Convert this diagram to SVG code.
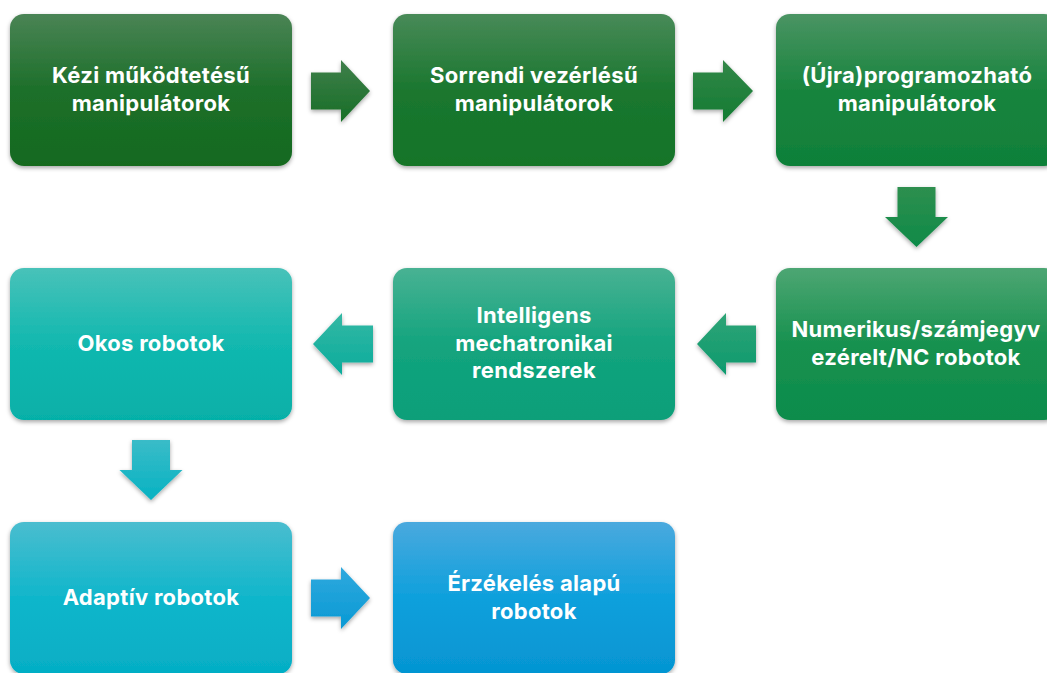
<svg xmlns="http://www.w3.org/2000/svg" width="1047" height="673" viewBox="0 0 1047 673">
<style>
.lbl{font-family:Inter,"Open Sans","Liberation Sans",sans-serif;font-weight:700;font-size:22px;letter-spacing:0.3px;fill:#ffffff;text-anchor:middle}
.box{filter:url(#sh)}
.arr{filter:url(#sh)}
</style>
<defs>
<filter id="sh" x="-10%" y="-10%" width="120%" height="130%">
<feDropShadow dx="0" dy="2" stdDeviation="2" flood-color="#000" flood-opacity="0.35"/>
</filter>
<linearGradient id="g1" x1="0" y1="0" x2="0" y2="1"><stop offset="0" stop-color="#4a8455"/><stop offset="0.5" stop-color="#1d6f2a"/><stop offset="1" stop-color="#146a1f"/></linearGradient>
<linearGradient id="g2" x1="0" y1="0" x2="0" y2="1"><stop offset="0" stop-color="#488a58"/><stop offset="0.5" stop-color="#1b772f"/><stop offset="1" stop-color="#137428"/></linearGradient>
<linearGradient id="g3" x1="0" y1="0" x2="0" y2="1"><stop offset="0" stop-color="#4a9463"/><stop offset="0.5" stop-color="#19843e"/><stop offset="1" stop-color="#0f8039"/></linearGradient>
<linearGradient id="g4" x1="0" y1="0" x2="0" y2="1"><stop offset="0" stop-color="#4da673"/><stop offset="0.5" stop-color="#17914f"/><stop offset="1" stop-color="#0c8c4c"/></linearGradient>
<linearGradient id="g5" x1="0" y1="0" x2="0" y2="1"><stop offset="0" stop-color="#48b293"/><stop offset="0.5" stop-color="#14a47e"/><stop offset="1" stop-color="#089f79"/></linearGradient>
<linearGradient id="g6" x1="0" y1="0" x2="0" y2="1"><stop offset="0" stop-color="#48c2b9"/><stop offset="0.5" stop-color="#12b8af"/><stop offset="1" stop-color="#06b0a8"/></linearGradient>
<linearGradient id="g7" x1="0" y1="0" x2="0" y2="1"><stop offset="0" stop-color="#4abdcf"/><stop offset="0.5" stop-color="#10b6cb"/><stop offset="1" stop-color="#05aec5"/></linearGradient>
<linearGradient id="g8" x1="0" y1="0" x2="0" y2="1"><stop offset="0" stop-color="#4aa9de"/><stop offset="0.5" stop-color="#0ea0dc"/><stop offset="1" stop-color="#0595d2"/></linearGradient>
<linearGradient id="a1" x1="0" y1="0" x2="0" y2="1"><stop offset="0" stop-color="#3f7f4b"/><stop offset="1" stop-color="#176e26"/></linearGradient>
<linearGradient id="a2" x1="0" y1="0" x2="0" y2="1"><stop offset="0" stop-color="#338748"/><stop offset="1" stop-color="#137b32"/></linearGradient>
<linearGradient id="a3" x1="0" y1="0" x2="0" y2="1"><stop offset="0" stop-color="#2e8f4f"/><stop offset="1" stop-color="#0e8a48"/></linearGradient>
<linearGradient id="a4" x1="0" y1="0" x2="0" y2="1"><stop offset="0" stop-color="#2fa476"/><stop offset="1" stop-color="#0d9a6e"/></linearGradient>
<linearGradient id="a5" x1="0" y1="0" x2="0" y2="1"><stop offset="0" stop-color="#35b8a4"/><stop offset="1" stop-color="#0aac9c"/></linearGradient>
<linearGradient id="a6" x1="0" y1="0" x2="0" y2="1"><stop offset="0" stop-color="#3abcc8"/><stop offset="1" stop-color="#07b2c2"/></linearGradient>
<linearGradient id="a7" x1="0" y1="0" x2="0" y2="1"><stop offset="0" stop-color="#30a9de"/><stop offset="1" stop-color="#0899d4"/></linearGradient>
</defs>
<rect x="0" y="0" width="1047" height="673" fill="#ffffff"/>
<g id="connectors">
<path class="arr" fill="url(#a1)" d="M311,72.5 H341 V60 L370,91 L341,122 V109.5 H311 Z"/>
<path class="arr" fill="url(#a2)" d="M693,72.5 H723 V60 L753,91 L723,122 V109.5 H693 Z"/>
<path class="arr" fill="url(#a3)" d="M897.5,187 H935.5 V217 H948 L916.5,247 L885,217 H897.5 Z"/>
<path class="arr" fill="url(#a4)" d="M697,344 L726,313 V325.5 H756 V362.5 H726 V375 Z"/>
<path class="arr" fill="url(#a5)" d="M313,344 L342,313 V325.5 H373 V362.5 H342 V375 Z"/>
<path class="arr" fill="url(#a6)" d="M132,440 H170 V470 H182.5 L151,500 L119.5,470 H132 Z"/>
<path class="arr" fill="url(#a7)" d="M311,579.5 H341 V567 L370,598 L341,629 V616.5 H311 Z"/>
</g>
<g id="n1"><rect class="box" x="10" y="14" width="282" height="152" rx="14" fill="url(#g1)"/>
<text class="lbl" x="151" y="83">Kézi működtetésű</text><text class="lbl" x="151" y="111">manipulátorok</text></g>
<g id="n2"><rect class="box" x="393" y="14" width="282" height="152" rx="14" fill="url(#g2)"/>
<text class="lbl" x="534" y="83">Sorrendi vezérlésű</text><text class="lbl" x="534" y="111">manipulátorok</text></g>
<g id="n3"><rect class="box" x="776" y="14" width="282" height="152" rx="14" fill="url(#g3)"/>
<text class="lbl" x="917" y="83">(Újra)programozható</text><text class="lbl" x="917" y="111">manipulátorok</text></g>
<g id="n4"><rect class="box" x="776" y="268" width="282" height="152" rx="14" fill="url(#g4)"/>
<text class="lbl" x="916" y="337">Numerikus/számjegyv</text><text class="lbl" x="916" y="365">ezérelt/NC robotok</text></g>
<g id="n5"><rect class="box" x="393" y="268" width="282" height="152" rx="14" fill="url(#g5)"/>
<text class="lbl" x="534" y="323">Intelligens</text><text class="lbl" x="534" y="350.5">mechatronikai</text><text class="lbl" x="534" y="378">rendszerek</text></g>
<g id="n6"><rect class="box" x="10" y="268" width="282" height="152" rx="14" fill="url(#g6)"/>
<text class="lbl" x="151" y="351">Okos robotok</text></g>
<g id="n7"><rect class="box" x="10" y="522" width="282" height="152" rx="14" fill="url(#g7)"/>
<text class="lbl" x="151" y="605">Adaptív robotok</text></g>
<g id="n8"><rect class="box" x="393" y="522" width="282" height="152" rx="14" fill="url(#g8)"/>
<text class="lbl" x="534" y="591">Érzékelés alapú</text><text class="lbl" x="534" y="619">robotok</text></g>
</svg>
